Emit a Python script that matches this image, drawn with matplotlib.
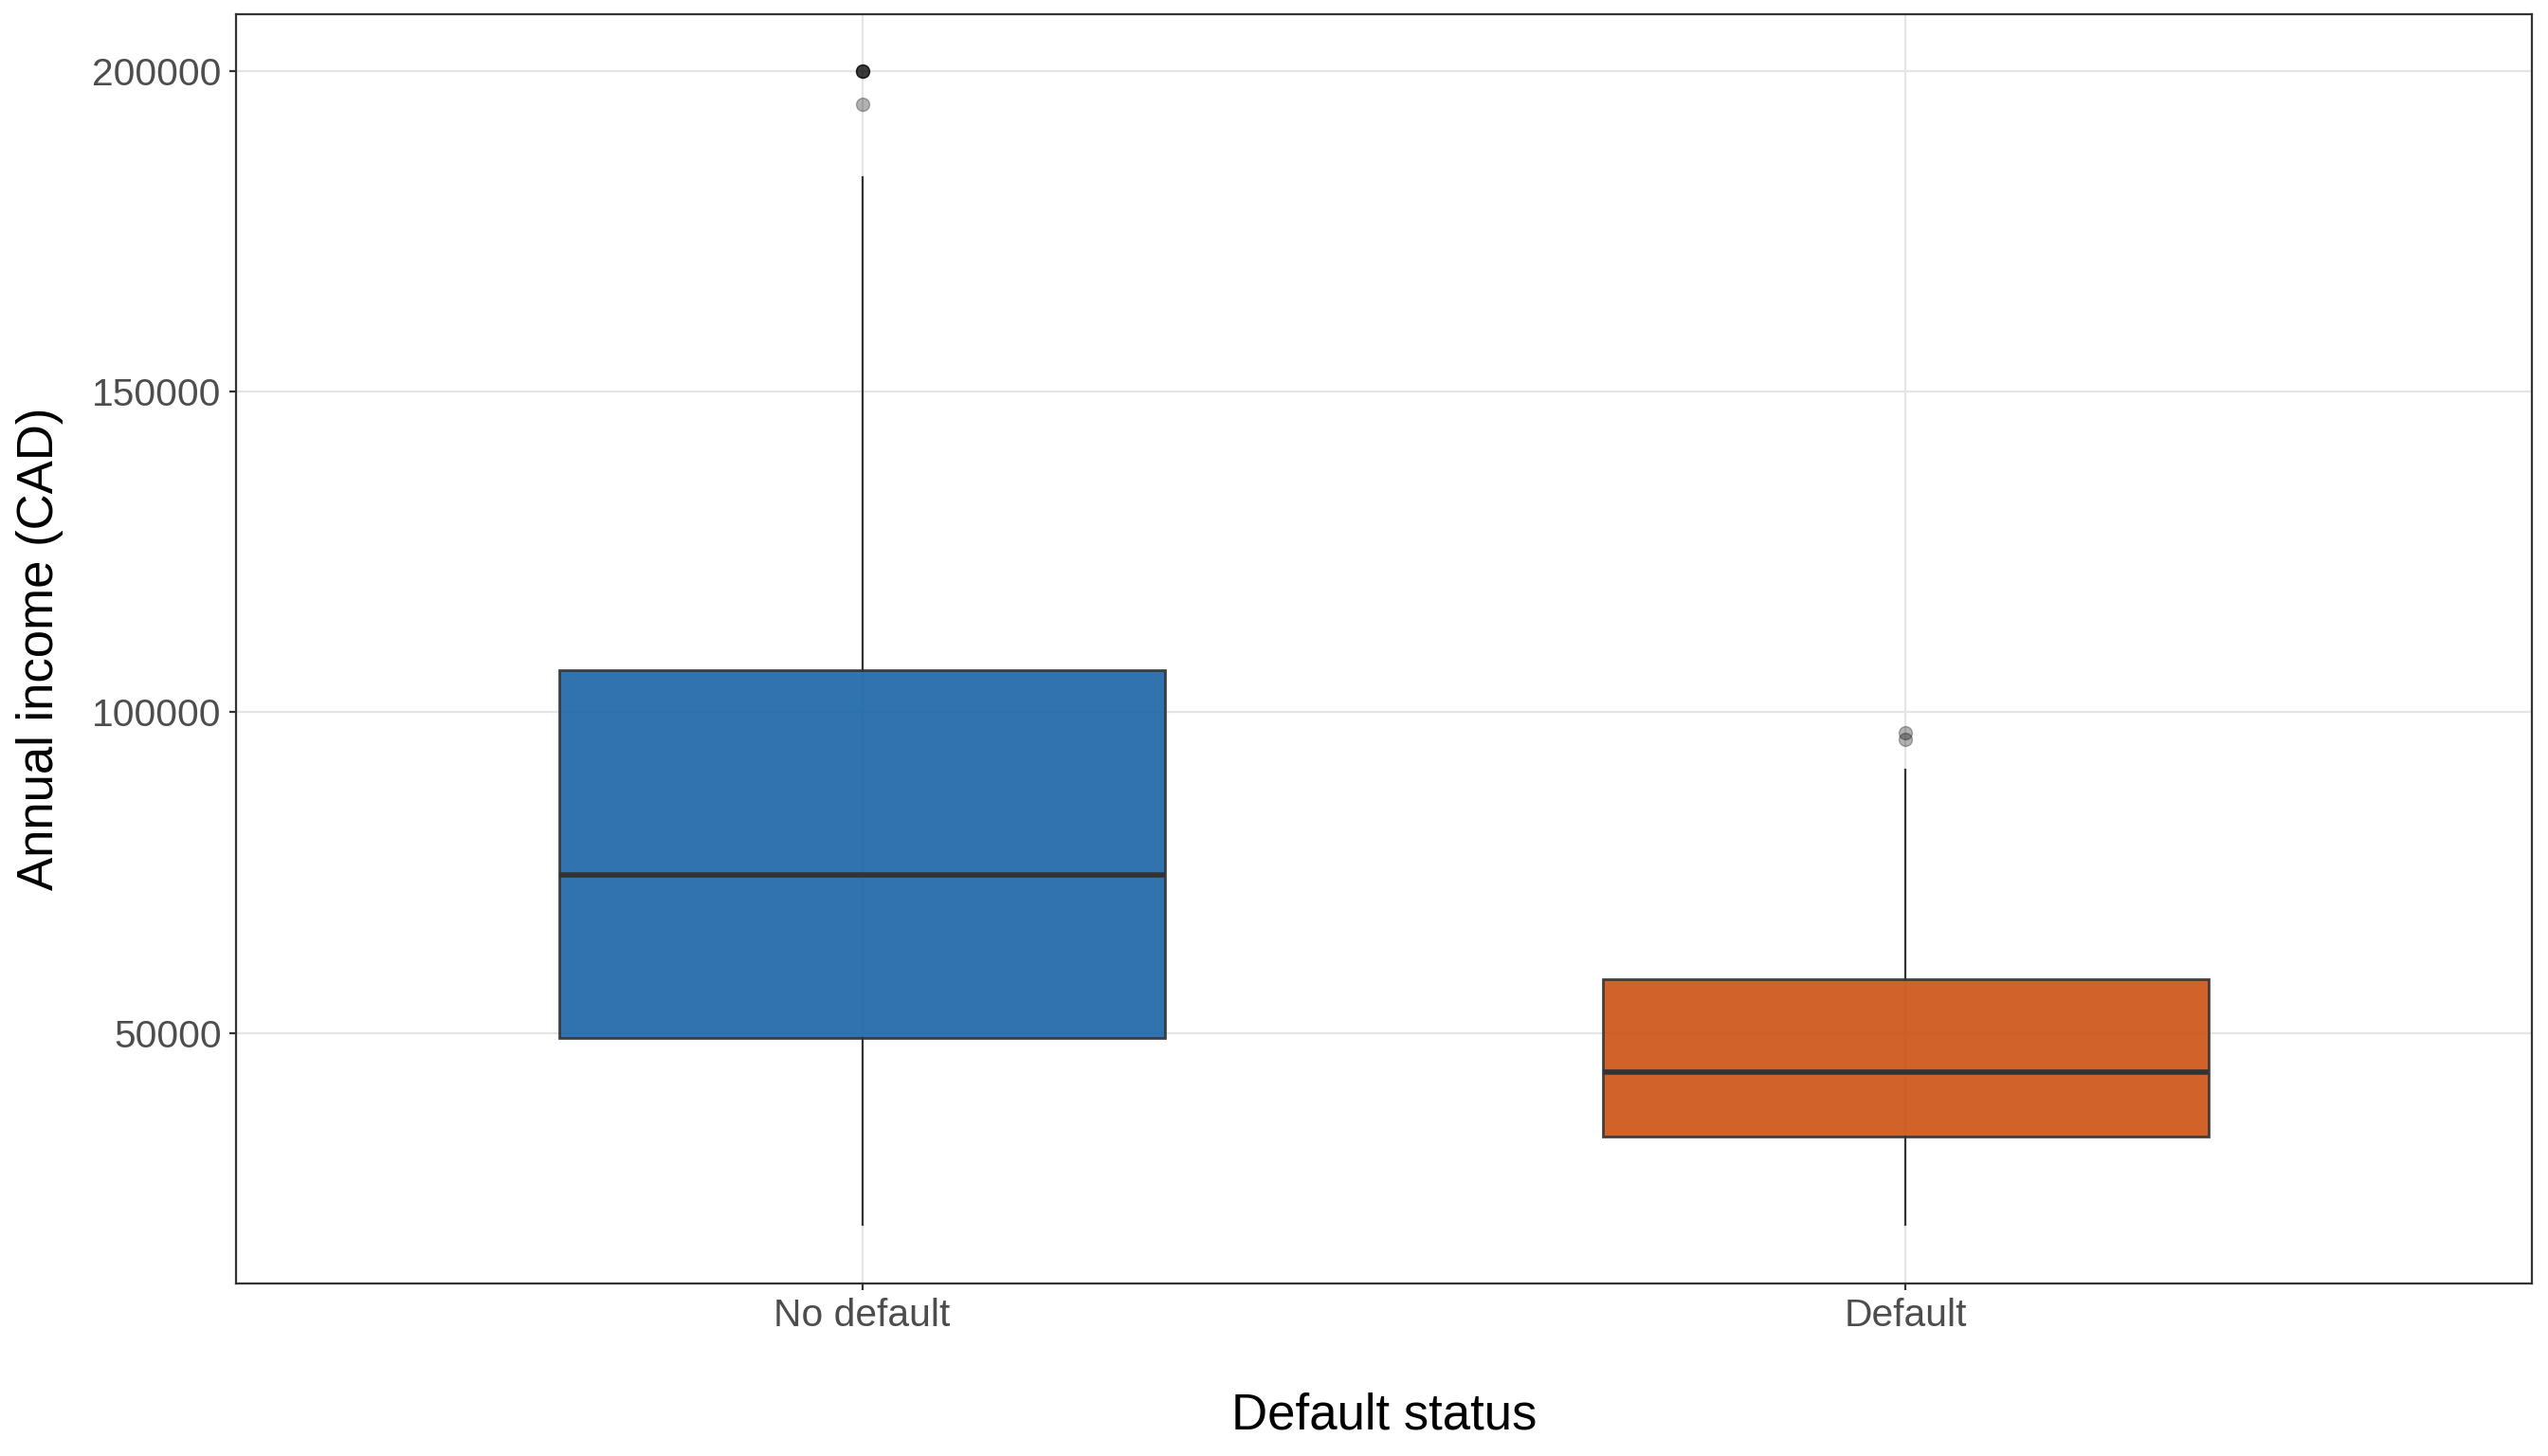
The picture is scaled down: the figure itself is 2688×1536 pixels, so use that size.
import matplotlib
matplotlib.use("Agg")
from matplotlib import pyplot as plt

# box statistics
groups = ["No default", "Default"]
q1 = [49200, 33800]
med = [74600, 43900]
q3 = [106600, 58400]
whislo = [20000, 20000]
whishi = [183500, 91100]
fliers = [[200000, 200000, 200000, 200000, 194900], [96800, 95800]]
fills = ["#1964A6", "#CB5113"]
yticks = [50000, 100000, 150000, 200000]

plt.rcParams["font.family"] = ["Liberation Sans", "DejaVu Sans"]

fig = plt.figure(figsize=(13.44, 7.68), dpi=200)
ax = fig.add_axes([249 / 2688, 1 - 1354 / 1536, (2671 - 249) / 2688, (1354 - 15) / 1536])

stats = []
for i in range(len(groups)):
    stats.append({"q1": q1[i], "med": med[i], "q3": q3[i],
                  "whislo": whislo[i], "whishi": whishi[i],
                  "fliers": fliers[i], "label": groups[i]})

bp = ax.bxp(stats, positions=[1, 2], widths=0.58, patch_artist=True,
            showcaps=False,
            boxprops=dict(edgecolor="#333333", linewidth=1.0),
            medianprops=dict(color="#333333", linewidth=2.0),
            whiskerprops=dict(color="#333333", linewidth=0.8),
            flierprops=dict(marker="o", markersize=5, markerfacecolor="black",
                            markeredgecolor="black", alpha=0.3, markeredgewidth=0.5))
for patch, c in zip(bp["boxes"], fills):
    patch.set_facecolor(c)
    patch.set_alpha(0.9)
    patch.set_edgecolor("#333333")

ax.set_xlim(0.4, 2.6)
ax.set_ylim(10900, 208900)
ax.set_yticks(yticks)
ax.set_yticklabels([str(v) for v in yticks])
ax.set_xticks([1, 2])
ax.set_xticklabels(groups)

ax.grid(True, color="#E5E5E5", linewidth=0.8)
ax.set_axisbelow(True)
for s in ax.spines.values():
    s.set_color("#333333")
    s.set_linewidth(0.8)
ax.tick_params(axis="both", labelsize=14.7, colors="#333333", length=2.5, width=0.8,
               labelcolor="#4D4D4D", pad=3)

ax.set_xlabel("Default status", fontsize=19, labelpad=22)
ax.set_ylabel("Annual income (CAD)", fontsize=19, labelpad=11)

fig.savefig("out.png", dpi=200)
